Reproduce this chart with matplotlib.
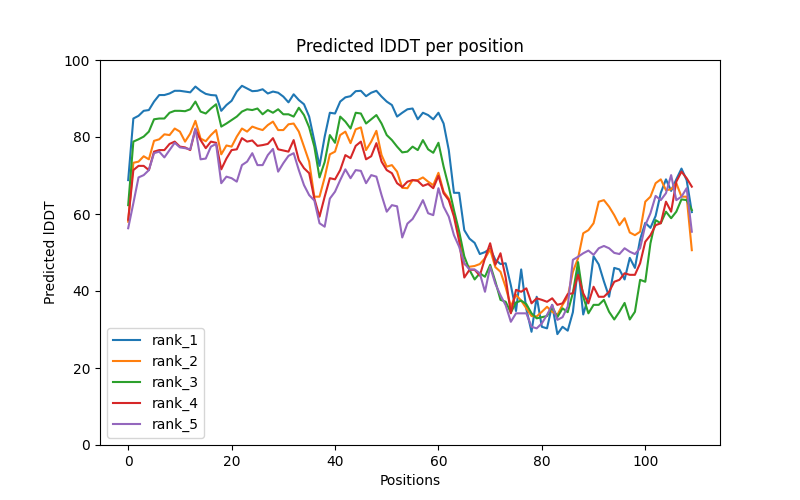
import matplotlib
matplotlib.use("Agg")
import matplotlib.pyplot as plt

# pLDDT por posición para los 5 modelos
rank_1 = [68.8, 84.8, 85.5, 86.8, 87.0, 89.2, 90.9, 90.9, 91.3, 92.0,
          92.0, 91.8, 91.6, 93.1, 92.0, 91.2, 90.9, 90.8, 86.8, 88.3,
          89.4, 91.8, 93.3, 92.6, 91.9, 92.0, 92.4, 91.3, 91.8, 91.5,
          90.5, 89.0, 91.1, 89.6, 88.5, 85.3, 79.0, 72.5, 80.1, 86.3,
          86.1, 89.2, 90.3, 90.6, 91.9, 92.0, 90.6, 91.5, 92.0, 90.5,
          89.2, 88.3, 85.3, 86.3, 87.2, 87.4, 84.6, 86.3, 85.7, 84.6,
          86.3, 83.5, 76.6, 65.5, 65.5, 55.8, 53.6, 52.5, 49.6, 50.1,
          51.0, 48.1, 47.0, 47.2, 41.5, 34.8, 45.6, 35.3, 29.4, 38.5,
          30.7, 30.3, 36.4, 28.8, 30.7, 29.7, 34.5, 46.4, 33.9, 38.5,
          49.0, 46.9, 42.5, 38.5, 46.0, 45.6, 43.0, 48.6, 46.0, 53.4,
          57.7, 56.4, 59.5, 65.5, 69.0, 66.0, 69.0, 71.8, 68.8, 60.5]

rank_2 = [58.0, 73.3, 73.6, 75.0, 74.2, 79.0, 79.4, 80.7, 80.5, 82.2,
          81.4, 78.8, 80.9, 84.2, 79.6, 78.9, 80.5, 81.8, 75.5, 77.8,
          77.5, 80.1, 82.2, 81.4, 82.7, 82.2, 81.8, 83.1, 84.0, 81.8,
          81.8, 83.3, 83.5, 81.4, 77.5, 73.6, 64.5, 64.5, 69.5, 75.5,
          76.2, 80.5, 81.4, 78.4, 82.0, 82.5, 76.6, 78.8, 81.6, 75.3,
          72.3, 72.7, 71.0, 66.8, 66.7, 68.8, 68.8, 69.5, 68.4, 67.5,
          70.7, 65.8, 64.0, 60.0, 54.5, 47.0, 46.3, 46.5, 47.0, 48.5,
          50.8, 46.2, 45.0, 41.0, 36.0, 39.0, 37.5, 35.5, 33.5, 33.4,
          34.6, 35.9, 34.6, 33.8, 36.4, 38.5, 45.0, 48.5, 55.0, 55.8,
          57.6, 63.2, 63.6, 61.9, 59.7, 57.1, 58.9, 55.2, 54.5, 55.4,
          63.2, 64.5, 68.0, 69.0, 66.2, 66.4, 68.0, 64.5, 64.5, 50.6]

rank_3 = [62.3, 78.8, 79.4, 80.1, 81.4, 84.6, 84.8, 84.8, 86.3, 86.8,
          86.8, 86.7, 87.2, 89.2, 86.6, 86.1, 87.4, 88.5, 82.7, 83.5,
          84.4, 85.3, 86.6, 87.2, 87.0, 87.4, 85.9, 87.0, 86.3, 87.2,
          85.9, 85.9, 85.3, 87.6, 85.7, 82.5, 77.5, 69.5, 73.5, 80.5,
          78.5, 85.3, 84.0, 82.2, 86.3, 86.1, 83.5, 84.6, 85.7, 83.5,
          80.5, 79.2, 77.5, 76.0, 76.2, 77.5, 76.6, 79.2, 76.8, 75.9,
          78.5, 72.3, 67.0, 61.0, 55.5, 49.0, 45.5, 43.0, 44.6, 43.7,
          46.8, 42.5, 37.7, 37.2, 34.4, 37.0, 37.5, 36.6, 34.2, 32.9,
          33.2, 33.5, 35.9, 33.2, 35.5, 34.5, 39.5, 47.5, 38.5, 34.2,
          36.4, 36.4, 37.7, 34.6, 32.6, 34.6, 36.9, 32.6, 34.6, 42.9,
          42.4, 52.4, 58.4, 57.6, 60.6, 58.9, 60.6, 63.8, 63.6, 61.0]

rank_4 = [58.5, 71.4, 72.5, 72.5, 71.4, 76.2, 76.6, 76.6, 78.2, 78.8,
          77.5, 77.3, 76.6, 82.0, 79.2, 77.1, 78.8, 78.5, 71.6, 74.4,
          76.6, 76.8, 79.7, 78.8, 79.1, 77.7, 77.9, 78.2, 79.7, 76.8,
          76.5, 76.2, 79.2, 74.0, 71.9, 70.6, 64.0, 59.3, 64.5, 69.3,
          69.0, 71.4, 75.3, 74.5, 77.7, 78.8, 74.2, 75.0, 78.4, 73.6,
          71.4, 70.6, 68.0, 67.0, 68.4, 68.8, 68.6, 67.3, 67.8, 66.7,
          69.9, 65.4, 63.6, 59.3, 53.0, 43.5, 45.5, 45.5, 44.0, 48.5,
          52.4, 46.8, 49.8, 43.5, 34.2, 40.3, 39.8, 40.7, 36.8, 38.1,
          37.7, 37.2, 38.1, 36.4, 36.8, 39.2, 39.4, 44.2, 39.4, 36.8,
          41.1, 38.5, 38.5, 39.8, 42.4, 42.9, 44.6, 44.2, 44.2, 47.2,
          52.8, 54.5, 57.1, 57.6, 63.2, 60.6, 68.4, 71.0, 69.3, 67.1]

rank_5 = [56.3, 62.8, 69.5, 70.1, 71.4, 75.8, 76.2, 74.7, 76.6, 78.5,
          77.3, 77.1, 76.8, 82.2, 74.2, 74.4, 77.5, 78.2, 68.0, 69.7,
          69.3, 68.4, 72.7, 73.6, 75.8, 72.7, 72.7, 75.3, 76.9, 71.0,
          73.2, 75.1, 75.8, 71.4, 67.5, 64.9, 63.5, 57.6, 56.7, 64.0,
          65.8, 68.8, 71.6, 69.3, 71.4, 71.2, 68.0, 70.1, 69.7, 64.9,
          60.6, 62.3, 62.0, 53.9, 57.5, 58.7, 61.0, 63.6, 60.2, 59.7,
          66.7, 61.9, 59.3, 54.5, 51.5, 47.2, 45.6, 45.6, 44.6, 39.8,
          46.3, 41.9, 38.9, 36.3, 32.0, 34.2, 34.2, 34.2, 30.7, 30.3,
          31.6, 33.8, 36.4, 32.5, 33.2, 36.0, 48.1, 48.9, 49.8, 50.5,
          49.4, 51.1, 51.7, 51.1, 49.9, 49.6, 51.1, 50.2, 49.6, 51.1,
          57.1, 60.2, 64.7, 63.6, 65.4, 70.1, 63.6, 64.5, 66.7, 55.4]

nombres = ["rank_1", "rank_2", "rank_3", "rank_4", "rank_5"]
series = [rank_1, rank_2, rank_3, rank_4, rank_5]

plt.figure(figsize=(8, 5), dpi=100)
for nombre, valores in zip(nombres, series):
    plt.plot(range(len(valores)), valores, label=nombre)

plt.title("Predicted lDDT per position")
plt.xlabel("Positions")
plt.ylabel("Predicted lDDT")
plt.ylim(0, 100)
plt.legend(loc="lower left")
plt.savefig("out.png")
